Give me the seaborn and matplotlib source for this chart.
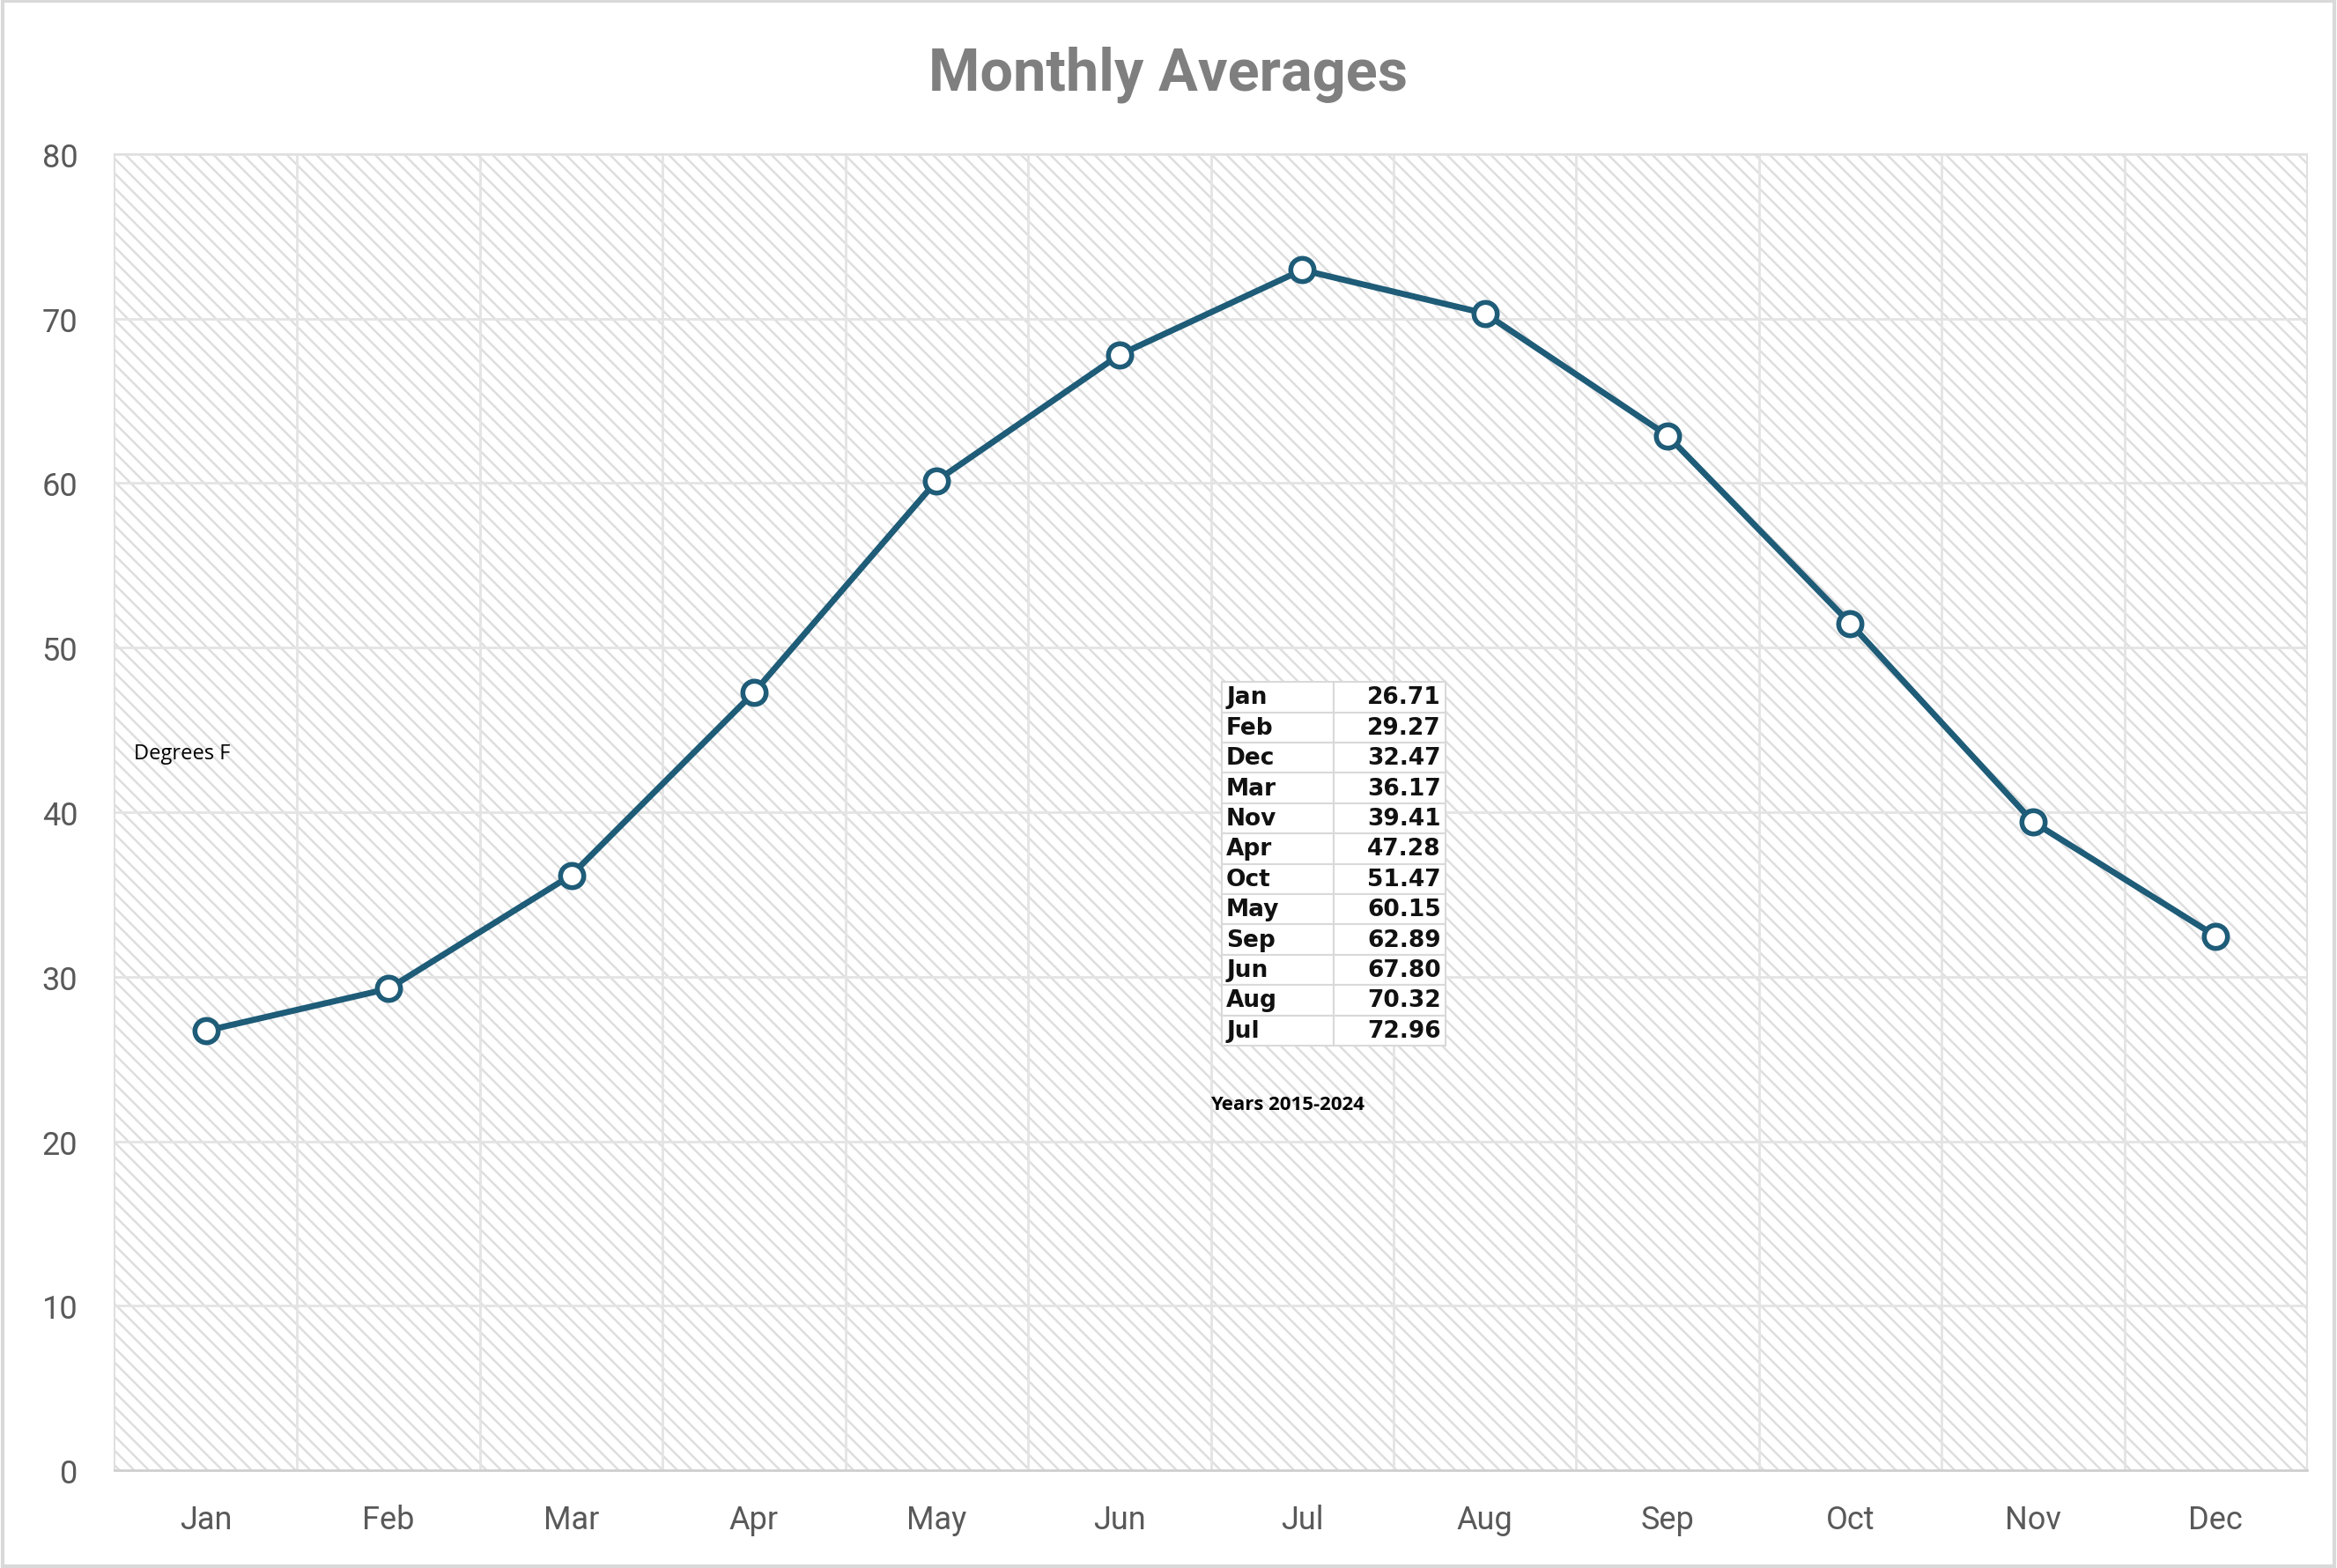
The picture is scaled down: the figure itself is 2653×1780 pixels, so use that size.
import matplotlib
matplotlib.use("Agg")
import matplotlib.pyplot as plt
import seaborn as sns
import numpy as np
import pandas as pd
from matplotlib.patches import Rectangle

months = ["Jan", "Feb", "Mar", "Apr", "May", "Jun", "Jul", "Aug", "Sep", "Oct", "Nov", "Dec"]
avg_temp = [26.71, 29.27, 36.17, 47.28, 60.15, 67.80, 72.96, 70.32, 62.89, 51.47, 39.41, 32.47]
y_ticks = [0, 10, 20, 30, 40, 50, 60, 70, 80]
title_text = "Monthly Averages"
y_note = "Degrees F"
x_note = "Years 2015-2024"

sns.set_theme(style="white")
plt.rcParams["font.family"] = ["Roboto", "DejaVu Sans"]
plt.rcParams["hatch.linewidth"] = 1.8

df = pd.DataFrame({"month": months, "temp": avg_temp})

fig = plt.figure(figsize=(26.53, 17.81), dpi=100)
ax = fig.add_axes([0.049, 0.0623, 0.9382, 0.8389])

line_color = "#1E5C78"

bg = Rectangle((0, 0), 1, 1, transform=ax.transAxes, facecolor="white",
               edgecolor="#dedede", linewidth=0, hatch="\\\\", zorder=0.1)
ax.add_patch(bg)

sns.lineplot(data=df, x="month", y="temp", sort=False, ax=ax, color=line_color,
             linewidth=5, marker="o", markersize=19, markerfacecolor="white",
             markeredgecolor=line_color, markeredgewidth=4, zorder=3)

ax.set_xlim(-0.5, len(months) - 0.5)
ax.set_ylim(0, 80)
ax.set_yticks(y_ticks)
ax.set_xticks(np.arange(0.5, len(months) - 0.5, 1), minor=True)
ax.set_axisbelow(True)
ax.grid(axis="y", which="major", color="#e4e4e4", linewidth=2)
ax.grid(axis="x", which="minor", color="#e4e4e4", linewidth=2)
ax.grid(axis="x", which="major", visible=False)
ax.tick_params(axis="both", which="both", length=0)
ax.tick_params(axis="x", pad=27, labelsize=26, labelcolor="#595959")
ax.tick_params(axis="y", pad=30, labelsize=26, labelcolor="#595959")
ax.set_xlabel("")
ax.set_ylabel("")

for s in ["left", "top", "right"]:
    ax.spines[s].set_color("#e0e0e0")
    ax.spines[s].set_linewidth(1.5)
ax.spines["bottom"].set_color("#cfcfcf")
ax.spines["bottom"].set_linewidth(2)

fig.text(0.5, 0.9525, title_text, ha="center", va="center", fontsize=48,
         fontweight="bold", color="#7f7f7f",
         family=["Liberation Sans Narrow", "Roboto", "DejaVu Sans"])

ax.text(0.0088, 0.545, y_note, transform=ax.transAxes, ha="left", va="center",
        fontsize=17, color="black", family=["Open Sans", "DejaVu Sans"])
ax.text(0.4996, 0.2784, x_note, transform=ax.transAxes, ha="left", va="center",
        fontsize=16, fontweight="bold", color="black", family=["Open Sans", "DejaVu Sans"])

order = np.argsort(avg_temp)
cell_text = [[months[i], f"{avg_temp[i]:.2f}"] for i in order]
tbl = ax.table(cellText=cell_text, bbox=[0.505, 0.3226, 0.102, 0.2764], zorder=4)
tbl.auto_set_font_size(False)
tbl.set_fontsize(19)
for (r, c), cell in tbl.get_celld().items():
    cell.set_edgecolor("#d9d9d9")
    cell.set_linewidth(1.5)
    cell.set_facecolor("white")
    cell.PAD = 0.04
    cell.set_text_props(fontweight="heavy", color="#111111", family=["DejaVu Sans"],
                        ha=("left" if c == 0 else "right"))

fig.patches.append(Rectangle((0.001, 0.001), 0.998, 0.998, transform=fig.transFigure,
                             fill=False, edgecolor="#d9d9d9", linewidth=3))

fig.savefig("out.png", dpi=100, facecolor="white")
